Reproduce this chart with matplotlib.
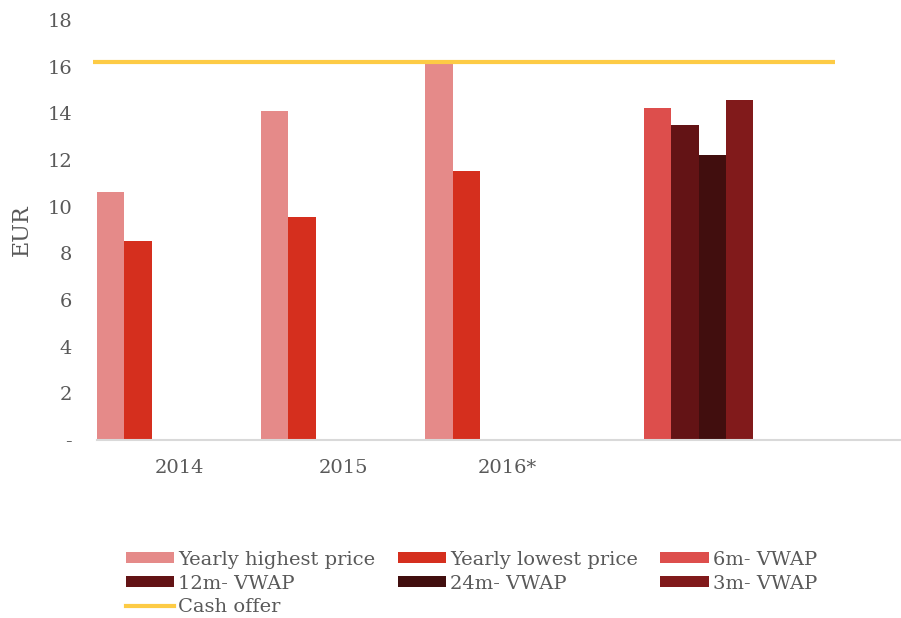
import matplotlib.pyplot as plt
from matplotlib.lines import Line2D
from matplotlib.patches import Patch
import numpy as np

plt.rcParams["font.family"] = ["DejaVu Serif"]

# Data
categories = ["2014", "2015", "2016*", ""]
yearly_high = [10.62, 14.1, 16.16, np.nan]
yearly_low = [8.52, 9.56, 11.53, np.nan]
vwap_6m = [np.nan, np.nan, np.nan, 14.23]
vwap_12m = [np.nan, np.nan, np.nan, 13.5]
vwap_24m = [np.nan, np.nan, np.nan, 12.21]
vwap_3m = [np.nan, np.nan, np.nan, 14.57]
cash_offer = 16.19

series = [
    ("Yearly highest price", yearly_high, "#E58A89"),
    ("Yearly lowest price", yearly_low, "#D52F1E"),
    ("6m- VWAP", vwap_6m, "#DD4E4C"),
    ("12m- VWAP", vwap_12m, "#631315"),
    ("24m- VWAP", vwap_24m, "#410E0E"),
    ("3m- VWAP", vwap_3m, "#811A1B"),
]

TEXT = "#595959"
GOLD = "#FDCB45"

fig = plt.figure(figsize=(9.01, 6.18), dpi=100)
ax = fig.add_axes([97 / 901, 1 - 440 / 618, 804 / 901, 420 / 618])

x = np.arange(len(categories))
n = len(series)
w = 1.0 / n
for i, (name, vals, col) in enumerate(series):
    ax.bar(x - 0.5 + w * (i + 0.5), vals, width=w, color=col, linewidth=0)

# cash offer line (slightly overhangs the axis on the left)
ax.plot([-0.525, 4.0], [cash_offer, cash_offer], color=GOLD,
        linewidth=3, clip_on=False, solid_capstyle="butt")

ax.set_xlim(-0.5, 4.4)
ax.set_ylim(0, 18)
ax.set_xticks(x)
ax.set_xticklabels(categories)
ax.set_yticks(np.arange(0, 19, 2))
ax.set_yticklabels(["-"] + [str(v) for v in range(2, 19, 2)])
ax.tick_params(axis="both", length=0, labelsize=14, colors=TEXT)
ax.tick_params(axis="x", pad=14)
ax.tick_params(axis="y", pad=18)
for side in ["top", "right", "left"]:
    ax.spines[side].set_visible(False)
ax.spines["bottom"].set_color("#D9D9D9")
ax.spines["bottom"].set_linewidth(1.5)

fig.text(22 / 901, 1 - 230 / 618, "EUR", rotation=90, ha="center",
         va="center", fontsize=16, color=TEXT)

# legend, filled row by row as in the reference
handles = [Patch(facecolor=c, edgecolor="none") for _, _, c in series]
handles.append(Line2D([0], [0], color=GOLD, linewidth=3))
labels = [s[0] for s in series] + ["Cash offer"]
order = [0, 3, 6, 1, 4, 2, 5]
fig.legend([handles[i] for i in order], [labels[i] for i in order],
           ncol=3, loc="upper left",
           bbox_to_anchor=(116 / 901, 1 - 541 / 618), frameon=False,
           fontsize=14, labelcolor=TEXT, handlelength=2.5, handleheight=0.5,
           handletextpad=0.2, columnspacing=1.15, labelspacing=0.3,
           borderpad=0)

fig.savefig("out.png", dpi=100)
